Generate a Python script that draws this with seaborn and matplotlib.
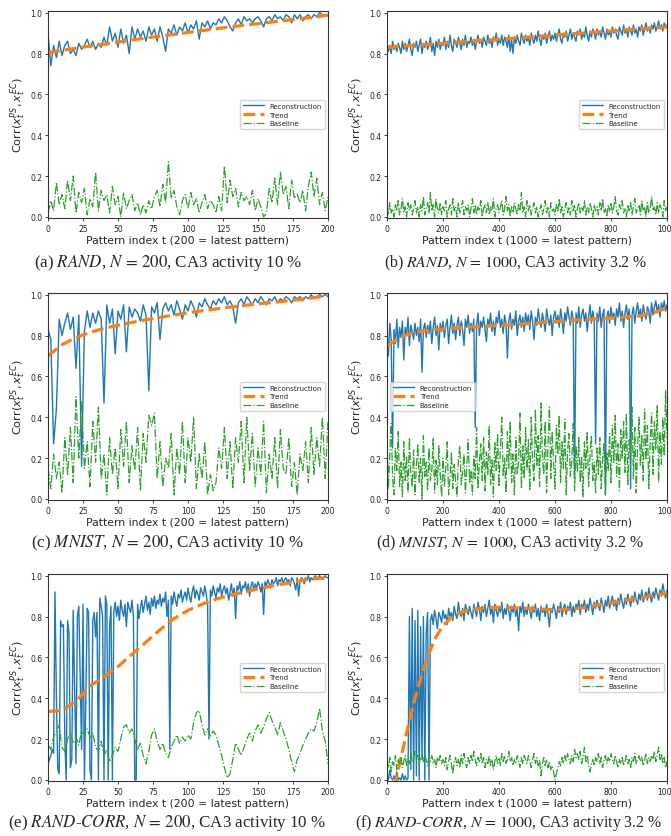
import numpy as np
import seaborn as sns
import matplotlib.pyplot as plt

sns.set_style("ticks")
plt.rcParams['font.family'] = ['DejaVu Sans']

BLUE, ORANGE, GREEN = '#1f77b4', '#ff7f0e', '#2ca02c'

# ---------------- (a) RAND, N = 200 ----------------
a_rec = [0.90, 0.74, 0.84, 0.78, 0.86, 0.79, 0.84, 0.86, 0.80, 0.82,
         0.79, 0.85, 0.82, 0.84, 0.87, 0.83, 0.86, 0.82, 0.85, 0.83,
         0.88, 0.84, 0.93, 0.86, 0.90, 0.83, 0.92, 0.85, 0.89, 0.80,
         0.93, 0.87, 0.92, 0.88, 0.91, 0.86, 0.93, 0.89, 0.92, 0.86,
         0.93, 0.88, 0.81, 0.92, 0.90, 0.94, 0.89, 0.93, 0.91, 0.95,
         0.90, 0.94, 0.92, 0.96, 0.87, 0.95, 0.93, 0.96, 0.92, 0.95,
         0.94, 0.97, 0.95, 0.98, 0.96, 0.93, 0.91, 0.95, 0.97, 0.94,
         0.98, 0.96, 0.97, 0.95, 0.97, 0.98, 0.96, 0.93, 0.97, 0.98,
         0.96, 0.99, 0.97, 0.98, 0.96, 0.99, 0.98, 0.95, 0.99, 0.97,
         0.99, 0.96, 0.98, 0.99, 0.97, 0.99, 0.98, 1.00, 0.99, 0.99,
         0.99]
a_base = [0.02, 0.08, 0.03, 0.17, 0.06, 0.11, 0.04, 0.18, 0.08, 0.20,
          0.02, 0.12, 0.07, 0.14, 0.01, 0.09, 0.05, 0.22, 0.03, 0.13,
          0.08, 0.11, 0.02, 0.15, 0.06, 0.10, 0.00, 0.12, 0.04, 0.08,
          0.11, 0.03, 0.07, 0.01, 0.06, 0.02, 0.08, 0.04, 0.10, 0.13,
          0.05, 0.16, 0.07, 0.27, 0.09, 0.13, 0.05, 0.01, 0.08, 0.11,
          0.04, 0.12, 0.06, 0.09, 0.02, 0.07, 0.11, 0.04, 0.08, 0.06,
          0.02, 0.10, 0.03, 0.25, 0.07, 0.18, 0.10, 0.14, 0.05, 0.12,
          0.08, 0.10, 0.06, 0.13, 0.03, 0.09, 0.05, 0.00, 0.02, 0.14,
          0.07, 0.19, 0.06, 0.22, 0.11, 0.15, 0.04, 0.18, 0.09, 0.11,
          0.07, 0.13, 0.03, 0.15, 0.22, 0.10, 0.19, 0.06, 0.12, 0.03,
          0.10]
a_trend = [0.805, 0.815, 0.826, 0.836, 0.846, 0.856, 0.866, 0.876, 0.885, 0.894,
           0.903, 0.912, 0.921, 0.930, 0.938, 0.946, 0.954, 0.962, 0.970, 0.978,
           0.988]

# ---------------- (b) RAND, N = 1000 ----------------
b_rec = [0.85, 0.81, 0.84, 0.80, 0.86, 0.82, 0.84, 0.81, 0.85, 0.83,
         0.80, 0.86, 0.82, 0.85, 0.81, 0.84, 0.87, 0.82, 0.79, 0.85,
         0.83, 0.86, 0.81, 0.84, 0.87, 0.80, 0.85, 0.83, 0.86, 0.82,
         0.84, 0.88, 0.81, 0.85, 0.79, 0.86, 0.83, 0.87, 0.82, 0.85,
         0.84, 0.88, 0.82, 0.86, 0.83, 0.89, 0.84, 0.81, 0.87, 0.85,
         0.83, 0.88, 0.85, 0.82, 0.87, 0.84, 0.89, 0.83, 0.86, 0.85,
         0.88, 0.84, 0.87, 0.82, 0.86, 0.89, 0.85, 0.87, 0.83, 0.88,
         0.86, 0.84, 0.89, 0.85, 0.87, 0.83, 0.88, 0.86, 0.90, 0.84,
         0.87, 0.85, 0.89, 0.84, 0.88, 0.86, 0.83, 0.89, 0.81, 0.87,
         0.80, 0.88, 0.85, 0.89, 0.86, 0.84, 0.90, 0.87, 0.85, 0.89,
         0.86, 0.88, 0.84, 0.90, 0.87, 0.85, 0.89, 0.86, 0.91, 0.87,
         0.84, 0.89, 0.87, 0.90, 0.85, 0.88, 0.91, 0.86, 0.89, 0.87,
         0.90, 0.86, 0.89, 0.92, 0.87, 0.85, 0.90, 0.88, 0.91, 0.86,
         0.89, 0.92, 0.87, 0.90, 0.88, 0.86, 0.91, 0.89, 0.92, 0.87,
         0.90, 0.88, 0.93, 0.89, 0.86, 0.91, 0.88, 0.92, 0.90, 0.87,
         0.92, 0.89, 0.91, 0.88, 0.93, 0.90, 0.87, 0.92, 0.89, 0.91,
         0.88, 0.93, 0.90, 0.92, 0.89, 0.87, 0.93, 0.91, 0.89, 0.94,
         0.90, 0.92, 0.88, 0.93, 0.91, 0.89, 0.94, 0.90, 0.92, 0.88,
         0.93, 0.91, 0.94, 0.89, 0.92, 0.95, 0.91, 0.93, 0.90, 0.94,
         0.92, 0.95, 0.91, 0.93, 0.96, 0.92, 0.94, 0.91, 0.95, 0.93,
         0.94]
b_base = [0.05, 0.01, 0.07, 0.02, 0.04, 0.00, 0.06, 0.03, 0.08, 0.01,
          0.04, 0.09, 0.02, 0.05, 0.00, 0.07, 0.03, 0.06, 0.01, 0.04,
          0.08, 0.02, 0.05, 0.00, 0.06, 0.03, 0.10, 0.01, 0.04, 0.07,
          0.02, 0.12, 0.03, 0.06, 0.00, 0.09, 0.04, 0.02, 0.07, 0.01,
          0.05, 0.03, 0.08, 0.00, 0.04, 0.06, 0.01, 0.09, 0.03, 0.05,
          0.00, 0.07, 0.02, 0.04, 0.08, 0.01, 0.05, 0.03, 0.06, 0.00,
          0.04, 0.09, 0.02, 0.06, 0.01, 0.05, 0.03, 0.08, 0.00, 0.04,
          0.06, 0.02, 0.07, 0.01, 0.05, 0.03, 0.09, 0.00, 0.04, 0.06,
          0.02, 0.05, 0.08, 0.01, 0.04, 0.10, 0.03, 0.06, 0.00, 0.05,
          0.02, 0.07, 0.04, 0.01, 0.06, 0.03, 0.12, 0.02, 0.05, 0.00,
          0.08, 0.03, 0.06, 0.01, 0.04, 0.07, 0.02, 0.05, 0.00, 0.03,
          0.06, 0.01, 0.04, 0.08, 0.02, 0.05, 0.00, 0.07, 0.03, 0.04,
          0.01, 0.06, 0.03, 0.09, 0.02, 0.05, 0.00, 0.04, 0.07, 0.02,
          0.05, 0.01, 0.08, 0.03, 0.06, 0.00, 0.04, 0.07, 0.02, 0.05,
          0.03, 0.08, 0.01, 0.05, 0.02, 0.07, 0.04, 0.00, 0.06, 0.03,
          0.05, 0.01, 0.07, 0.03, 0.09, 0.02, 0.04, 0.00, 0.06, 0.03,
          0.07, 0.02, 0.05, 0.10, 0.03, 0.01, 0.06, 0.04, 0.08, 0.02,
          0.04, 0.00, 0.06, 0.03, 0.07, 0.01, 0.05, 0.09, 0.02, 0.04,
          0.06, 0.01, 0.08, 0.03, 0.05, 0.00, 0.07, 0.02, 0.04, 0.10,
          0.03, 0.05, 0.01, 0.07, 0.02, 0.06, 0.04, 0.00, 0.08, 0.03,
          0.05]
b_trend = [0.830, 0.835, 0.840, 0.845, 0.850, 0.855, 0.860, 0.865, 0.870, 0.875,
           0.880, 0.885, 0.890, 0.895, 0.900, 0.905, 0.910, 0.915, 0.920, 0.925,
           0.930]

# ---------------- (c) MNIST, N = 200 ----------------
c_rec = [0.83, 0.78, 0.27, 0.44, 0.88, 0.80, 0.86, 0.91, 0.83, 0.89,
         0.64, 0.90, 0.16, 0.82, 0.92, 0.84, 0.91, 0.86, 0.92, 0.88,
         0.47, 0.95, 0.86, 0.93, 0.71, 0.92, 0.88, 0.95, 0.72, 0.94,
         0.89, 0.93, 0.91, 0.87, 0.95, 0.90, 0.53, 0.94, 0.91, 0.96,
         0.78, 0.93, 0.96, 0.92, 0.95, 0.90, 0.97, 0.93, 0.88, 0.95,
         0.92, 0.97, 0.94, 0.89, 0.96, 0.94, 0.98, 0.95, 0.93, 0.97,
         0.95, 0.98, 0.96, 0.99, 0.95, 0.97, 0.94, 0.86, 0.96, 0.98,
         0.95, 0.99, 0.97, 0.95, 0.98, 0.96, 0.99, 0.97, 0.95, 0.98,
         0.97, 0.99, 0.96, 0.98, 0.97, 0.99, 0.98, 0.96, 0.99, 0.98,
         0.99, 0.97, 0.99, 0.98, 1.00, 0.98, 0.99, 1.00, 0.99, 1.00,
         0.99]
c_base = [0.15, 0.05, 0.22, 0.10, 0.18, 0.03, 0.30, 0.12, 0.35, 0.08,
          0.50, 0.20, 0.48, 0.15, 0.28, 0.06, 0.38, 0.18, 0.45, 0.10,
          0.22, 0.02, 0.30, 0.12, 0.25, 0.05, 0.34, 0.16, 0.38, 0.08,
          0.26, 0.14, 0.35, 0.04, 0.32, 0.18, 0.41, 0.36, 0.42, 0.10,
          0.28, 0.06, 0.20, 0.15, 0.32, 0.02, 0.25, 0.12, 0.38, 0.08,
          0.30, 0.18, 0.40, 0.05, 0.22, 0.10, 0.28, 0.02, 0.12, 0.04,
          0.08, 0.25, 0.15, 0.35, 0.10, 0.28, 0.05, 0.30, 0.18, 0.38,
          0.08, 0.40, 0.14, 0.32, 0.06, 0.25, 0.12, 0.38, 0.03, 0.22,
          0.10, 0.30, 0.05, 0.34, 0.15, 0.12, 0.30, 0.06, 0.18, 0.02,
          0.22, 0.14, 0.28, 0.08, 0.35, 0.12, 0.30, 0.16, 0.40, 0.10,
          0.38]
c_trend = [0.700, 0.755, 0.790, 0.815, 0.835, 0.850, 0.864, 0.877, 0.889, 0.900,
           0.911, 0.921, 0.930, 0.939, 0.947, 0.955, 0.962, 0.969, 0.977, 0.985,
           0.995]

# ---------------- (d) MNIST, N = 1000 ----------------
d_rec = [0.82, 0.70, 0.86, 0.78, 0.25, 0.83, 0.76, 0.88, 0.74, 0.84,
         0.79, 0.87, 0.68, 0.84, 0.80, 0.89, 0.75, 0.85, 0.82, 0.78,
         0.86, 0.80, 0.84, 0.77, 0.88, 0.62, 0.83, 0.86, 0.79, 0.85,
         0.81, 0.87, 0.76, 0.84, 0.89, 0.80, 0.85, 0.73, 0.86, 0.82,
         0.87, 0.79, 0.85, 0.88, 0.76, 0.84, 0.90, 0.81, 0.86, 0.78,
         0.85, 0.89, 0.80, 0.87, 0.83, 0.75, 0.88, 0.84, 0.90, 0.81,
         0.86, 0.82, 0.88, 0.35, 0.85, 0.91, 0.80, 0.87, 0.84, 0.89,
         0.83, 0.77, 0.88, 0.85, 0.91, 0.82, 0.87, 0.80, 0.89, 0.86,
         0.92, 0.84, 0.88, 0.81, 0.90, 0.86, 0.69, 0.87, 0.91, 0.83,
         0.88, 0.85, 0.92, 0.80, 0.87, 0.90, 0.84, 0.89, 0.82, 0.91,
         0.86, 0.90, 0.83, 0.92, 0.87, 0.78, 0.89, 0.85, 0.93, 0.88,
         0.84, 0.91, 0.87, 0.82, 0.93, 0.88, 0.85, 0.90, 0.80, 0.89,
         0.92, 0.86, 0.90, 0.84, 0.93, 0.88, 0.81, 0.91, 0.87, 0.94,
         0.89, 0.85, 0.92, 0.88, 0.10, 0.91, 0.86, 0.94, 0.84, 0.90,
         0.93, 0.87, 0.91, 0.82, 0.89, 0.95, 0.86, 0.92, 0.88, 0.27,
         0.91, 0.87, 0.94, 0.84, 0.90, 0.93, 0.02, 0.89, 0.92, 0.86,
         0.94, 0.88, 0.91, 0.85, 0.93, 0.89, 0.96, 0.87, 0.92, 0.84,
         0.91, 0.95, 0.88, 0.93, 0.05, 0.90, 0.94, 0.86, 0.92, 0.96,
         0.89, 0.93, 0.87, 0.95, 0.91, 0.88, 0.94, 0.92, 0.86, 0.96,
         0.90, 0.94, 0.97, 0.91, 0.95, 0.89, 0.96, 0.93, 0.97, 0.92,
         0.95]
d_base = [0.30, 0.05, 0.22, 0.37, 0.10, 0.02, 0.25, 0.14, 0.33, 0.06,
          0.18, 0.01, 0.28, 0.09, 0.21, 0.03, 0.30, 0.12, 0.06, 0.24,
          0.02, 0.16, 0.27, 0.08, 0.20, 0.00, 0.31, 0.11, 0.18, 0.04,
          0.25, 0.09, 0.14, 0.30, 0.03, 0.19, 0.07, 0.26, 0.12, 0.01,
          0.20, 0.06, 0.15, 0.28, 0.02, 0.10, 0.23, 0.05, 0.17, 0.09,
          0.01, 0.19, 0.26, 0.07, 0.13, 0.22, 0.03, 0.16, 0.29, 0.08,
          0.14, 0.02, 0.21, 0.10, 0.35, 0.05, 0.18, 0.27, 0.09, 0.30,
          0.04, 0.23, 0.12, 0.36, 0.07, 0.19, 0.01, 0.28, 0.14, 0.32,
          0.06, 0.25, 0.40, 0.11, 0.20, 0.03, 0.33, 0.15, 0.38, 0.08,
          0.22, 0.02, 0.30, 0.12, 0.18, 0.42, 0.05, 0.26, 0.10, 0.35,
          0.14, 0.29, 0.04, 0.40, 0.19, 0.09, 0.44, 0.16, 0.31, 0.06,
          0.47, 0.21, 0.12, 0.38, 0.03, 0.27, 0.45, 0.10, 0.33, 0.18,
          0.05, 0.36, 0.22, 0.41, 0.08, 0.28, 0.15, 0.39, 0.02, 0.24,
          0.32, 0.11, 0.19, 0.37, 0.04, 0.26, 0.13, 0.30, 0.08, 0.21,
          0.01, 0.28, 0.15, 0.33, 0.06, 0.22, 0.31, 0.09, 0.18, 0.03,
          0.25, 0.12, 0.30, 0.05, 0.19, 0.27, 0.02, 0.23, 0.14, 0.32,
          0.08, 0.36, 0.18, 0.41, 0.11, 0.27, 0.04, 0.34, 0.20, 0.38,
          0.13, 0.42, 0.07, 0.29, 0.22, 0.45, 0.10, 0.35, 0.03, 0.26,
          0.40, 0.16, 0.31, 0.09, 0.44, 0.19, 0.36, 0.05, 0.28, 0.42,
          0.12, 0.38, 0.24, 0.46, 0.08, 0.33, 0.17, 0.40, 0.21, 0.53,
          0.30]
d_trend = [0.750, 0.795, 0.815, 0.825, 0.832, 0.837, 0.841, 0.845, 0.849, 0.853,
           0.858, 0.863, 0.868, 0.873, 0.878, 0.882, 0.886, 0.890, 0.896, 0.910,
           0.935]

# ---------------- (e) RAND-CORR, N = 200 ----------------
e_rec = [0.08, 0.10, 0.12, 0.15, 0.13, 0.92, 0.40, 0.05, 0.03, 0.78,
         0.75, 0.76, 0.20, 0.00, 0.78, 0.72, 0.06, 0.10, 0.83, 0.45,
         0.08, 0.80, 0.85, 0.50, 0.15, 0.86, 0.00, 0.40, 0.84, 0.82,
         0.05, 0.00, 0.78, 0.82, 0.70, 0.82, 0.00, 0.89, 0.85, 0.80,
         0.00, 0.90, 0.86, 0.00, 0.75, 0.85, 0.00, 0.82, 0.87, 0.80,
         0.85, 0.78, 0.88, 0.83, 0.80, 0.86, 0.75, 0.87, 0.84, 0.82,
         0.88, 0.80, 0.00, 0.00, 0.86, 0.79, 0.84, 0.88, 0.82, 0.86,
         0.90, 0.83, 0.87, 0.81, 0.89, 0.85, 0.90, 0.84, 0.88, 0.86,
         0.91, 0.85, 0.89, 0.87, 0.92, 0.80, 0.88, 0.15, 0.90, 0.86,
         0.92, 0.88, 0.85, 0.91, 0.89, 0.93, 0.87, 0.90, 0.92, 0.88,
         0.94, 0.90, 0.87, 0.92, 0.95, 0.89, 0.93, 0.91, 0.88, 0.94,
         0.92, 0.90, 0.95, 0.91, 0.86, 0.20, 0.93, 0.90, 0.95, 0.92,
         0.89, 0.94, 0.92, 0.96, 0.90, 0.93, 0.95, 0.91, 0.94, 0.88,
         0.92, 0.96, 0.90, 0.94, 0.79, 0.95, 0.93, 0.97, 0.91, 0.95,
         0.94, 0.97, 0.92, 0.96, 0.90, 0.95, 0.97, 0.93, 0.96, 0.94,
         0.97, 0.95, 0.92, 0.96, 0.81, 0.97, 0.95, 0.98, 0.96, 0.94,
         0.98, 0.96, 0.97, 0.99, 0.95, 0.98, 0.97, 0.99, 0.96, 0.98,
         0.99, 0.97, 0.98, 0.95, 0.99, 0.98, 0.96, 0.93, 0.99, 0.90,
         0.97, 0.99, 0.98, 0.96, 0.99, 0.98, 1.00, 0.97, 0.99, 0.98,
         0.99, 1.00, 0.98, 0.99, 1.00, 0.99, 0.98, 0.99, 1.00, 0.99,
         0.99]
e_base = [0.17, 0.15, 0.21, 0.24, 0.27, 0.16, 0.14, 0.20, 0.23, 0.18,
          0.21, 0.17, 0.24, 0.22, 0.25, 0.21, 0.23, 0.16, 0.14, 0.19,
          0.12, 0.15, 0.09, 0.12, 0.16, 0.14, 0.20, 0.26, 0.27, 0.23,
          0.25, 0.20, 0.15, 0.18, 0.12, 0.08, 0.14, 0.22, 0.25, 0.19,
          0.15, 0.18, 0.13, 0.11, 0.16, 0.19, 0.22, 0.18, 0.21, 0.19,
          0.22, 0.20, 0.28, 0.33, 0.34, 0.27, 0.22, 0.25, 0.21, 0.24,
          0.22, 0.17, 0.12, 0.06, 0.01, 0.03, 0.10, 0.18, 0.15, 0.12,
          0.16, 0.20, 0.23, 0.19, 0.24, 0.27, 0.23, 0.26, 0.30, 0.33,
          0.29, 0.26, 0.22, 0.28, 0.24, 0.20, 0.15, 0.09, 0.04, 0.10,
          0.13, 0.17, 0.20, 0.23, 0.25, 0.24, 0.28, 0.35, 0.24, 0.19,
          0.08]
e_trend = [0.335, 0.340, 0.385, 0.460, 0.505, 0.555, 0.615, 0.675, 0.735, 0.790,
           0.830, 0.860, 0.885, 0.905, 0.920, 0.935, 0.950, 0.962, 0.975, 0.985,
           0.990]

# ---------------- (f) RAND-CORR, N = 1000 ----------------
f_rec = [0.03, 0.00, 0.05, 0.01, 0.00, 0.02, 0.00, 0.04, 0.00, 0.01,
         0.00, 0.03, 0.00, 0.02, 0.00, 0.01, 0.80, 0.05, 0.84, 0.00,
         0.78, 0.02, 0.83, 0.00, 0.75, 0.10, 0.80, 0.00, 0.72, 0.82,
         0.00, 0.78, 0.81, 0.76, 0.83, 0.79, 0.74, 0.82, 0.80, 0.77,
         0.83, 0.79, 0.81, 0.76, 0.84, 0.80, 0.82, 0.78, 0.85, 0.81,
         0.79, 0.87, 0.82, 0.80, 0.84, 0.78, 0.86, 0.83, 0.81, 0.85,
         0.82, 0.79, 0.86, 0.83, 0.80, 0.87, 0.84, 0.78, 0.85, 0.82,
         0.86, 0.80, 0.84, 0.88, 0.81, 0.85, 0.77, 0.86, 0.83, 0.80,
         0.85, 0.82, 0.87, 0.79, 0.84, 0.81, 0.86, 0.83, 0.78, 0.85,
         0.82, 0.86, 0.80, 0.84, 0.73, 0.85, 0.82, 0.87, 0.80, 0.84,
         0.81, 0.86, 0.83, 0.79, 0.85, 0.82, 0.86, 0.80, 0.84, 0.78,
         0.85, 0.82, 0.84, 0.80, 0.86, 0.81, 0.75, 0.84, 0.82, 0.86,
         0.83, 0.79, 0.85, 0.82, 0.87, 0.80, 0.84, 0.86, 0.81, 0.85,
         0.83, 0.87, 0.80, 0.85, 0.82, 0.86, 0.84, 0.88, 0.81, 0.86,
         0.84, 0.88, 0.82, 0.86, 0.83, 0.89, 0.85, 0.81, 0.87, 0.84,
         0.88, 0.85, 0.83, 0.89, 0.86, 0.82, 0.88, 0.85, 0.90, 0.84,
         0.87, 0.90, 0.85, 0.88, 0.83, 0.89, 0.86, 0.91, 0.87, 0.84,
         0.89, 0.86, 0.91, 0.88, 0.85, 0.90, 0.87, 0.92, 0.88, 0.86,
         0.91, 0.88, 0.93, 0.87, 0.90, 0.92, 0.88, 0.94, 0.90, 0.87,
         0.92, 0.89, 0.94, 0.91, 0.88, 0.93, 0.90, 0.96, 0.92, 0.89,
         0.93]
f_base = [0.10, 0.06, 0.11, 0.04, 0.09, 0.07, 0.12, 0.05, 0.10, 0.08,
          0.11, 0.06, 0.09, 0.12, 0.07, 0.10, 0.08, 0.13, 0.09, 0.11,
          0.14, 0.10, 0.12, 0.08, 0.11, 0.13, 0.09, 0.12, 0.10, 0.07,
          0.11, 0.09, 0.12, 0.08, 0.10, 0.06, 0.11, 0.09, 0.12, 0.08,
          0.10, 0.07, 0.11, 0.05, 0.09, 0.12, 0.08, 0.03, 0.09, 0.11,
          0.07, 0.10, 0.06, 0.12, 0.08, 0.13, 0.09, 0.06, 0.11, 0.08,
          0.12, 0.09, 0.14, 0.10, 0.07, 0.11, 0.09, 0.13, 0.08, 0.11,
          0.06, 0.10, 0.08, 0.12, 0.07, 0.10, 0.05, 0.09, 0.12, 0.08,
          0.11, 0.07, 0.13, 0.09, 0.12, 0.08, 0.10, 0.14, 0.09, 0.11,
          0.07, 0.10, 0.08, 0.12, 0.09, 0.06, 0.11, 0.08, 0.12, 0.10,
          0.08, 0.12, 0.09, 0.06, 0.10, 0.13, 0.08, 0.11, 0.07, 0.10,
          0.02, 0.08, 0.11, 0.07, 0.10, 0.06, 0.09, 0.05, 0.07, 0.04,
          0.00, 0.03, 0.06, 0.09, 0.07, 0.11, 0.08, 0.12, 0.09, 0.13,
          0.10, 0.08, 0.12, 0.09, 0.15, 0.11, 0.13, 0.10, 0.14, 0.08,
          0.11, 0.16, 0.09, 0.12, 0.07, 0.04, 0.08, 0.10, 0.07, 0.11,
          0.09, 0.13, 0.08, 0.11, 0.06, 0.10, 0.12, 0.08, 0.11, 0.09,
          0.13, 0.10, 0.08, 0.12, 0.09, 0.06, 0.10, 0.08, 0.11, 0.07,
          0.09, 0.12, 0.08, 0.10, 0.06, 0.11, 0.09, 0.13, 0.08, 0.10,
          0.12, 0.09, 0.11, 0.07, 0.10, 0.13, 0.08, 0.11, 0.09, 0.12,
          0.10, 0.14, 0.09, 0.12, 0.16, 0.10, 0.13, 0.08, 0.11, 0.06,
          0.09]
f_trend_x = [0, 25, 50, 75, 100, 125, 150, 175, 200, 225, 250, 275, 300,
             350, 400, 450, 500, 550, 600, 650, 700, 750, 800, 850, 900, 950, 1000]
f_trend = [-0.19, -0.04, 0.11, 0.26, 0.40, 0.52, 0.62, 0.70, 0.755, 0.79, 0.81, 0.825, 0.835,
           0.842, 0.845, 0.843, 0.840, 0.836, 0.832, 0.835, 0.843, 0.855, 0.866, 0.878, 0.890,
           0.903, 0.915]

captions = [
    r'(a) $\mathit{RAND}$, $N\,=\,200$, CA3 activity 10 %',
    r'(b) $\mathit{RAND}$, $N\,=\,1000$, CA3 activity 3.2 %',
    r'(c) $\mathit{MNIST}$, $N\,=\,200$, CA3 activity 10 %',
    r'(d) $\mathit{MNIST}$, $N\,=\,1000$, CA3 activity 3.2 %',
    r'(e) $\mathit{RAND}$-$\mathit{CORR}$, $N\,=\,200$, CA3 activity 10 %',
    r'(f) $\mathit{RAND}$-$\mathit{CORR}$, $N\,=\,1000$, CA3 activity 3.2 %',
]

W, H = 671, 837
fig = plt.figure(figsize=(W / 100, H / 100), dpi=100)

x200 = np.arange(0, 201, 2)
x200_1 = np.arange(0, 201, 1)
x200_t = np.arange(0, 201, 10)
x1000 = np.arange(0, 1001, 5)
x1000_t = np.arange(0, 1001, 50)

panels = [
    (x200, a_rec, x200_t, a_trend, x200, a_base, 200, 'center right'),
    (x1000, b_rec, x1000_t, b_trend, x1000, b_base, 1000, 'center right'),
    (x200, c_rec, x200_t, c_trend, x200, c_base, 200, 'center right'),
    (x1000, d_rec, x1000_t, d_trend, x1000, d_base, 1000, 'center left'),
    (x200_1, e_rec, x200_t, e_trend, x200, e_base, 200, 'center right'),
    (x1000, f_rec, f_trend_x, f_trend, x1000, f_base, 1000, 'center right'),
]

lefts = [48, 387]
tops = [12, 294, 575]
ax_w, ax_h = 280, 207
cap_x = [168, 516, 168, 510, 167, 509]
cap_y = [263, 543, 823]
cap_size = [12.2, 11.3]

for i, (xr, rec, xt, tr, xb, base, n, loc) in enumerate(panels):
    row, col = divmod(i, 2)
    l, t = lefts[col], tops[row]
    ax = fig.add_axes([l / W, 1 - (t + ax_h) / H, ax_w / W, ax_h / H])

    sns.lineplot(x=xr, y=rec, ax=ax, color=BLUE, lw=1.0, label='Reconstruction')
    sns.lineplot(x=xt, y=tr, ax=ax, color=ORANGE, lw=2.3, linestyle='--', label='Trend')
    sns.lineplot(x=xb, y=base, ax=ax, color=GREEN, lw=0.9, linestyle='-.', label='Baseline')

    ax.set_xlim(0, n)
    ax.set_ylim(-0.005, 1.008)
    ax.set_xticks(np.arange(0, n + 1, 25 if n == 200 else 200))
    ax.set_yticks([0.0, 0.2, 0.4, 0.6, 0.8, 1.0])
    ax.yaxis.set_major_formatter(plt.FormatStrFormatter('%.1f'))
    ax.tick_params(labelsize=5.5, length=2.5, width=0.6, pad=1.5, colors='#222222')
    for s in ax.spines.values():
        s.set_linewidth(0.8)
        s.set_color('#333333')

    ax.set_xlabel(f'Pattern index t ({n} = latest pattern)', fontsize=7.8, labelpad=2)
    ax.set_ylabel(r'Corr$(x_t^{PS}, x_t^{EC})$', fontsize=8.2, labelpad=2)

    ax.legend(loc=loc, fontsize=5, handlelength=3.0, frameon=True,
              framealpha=0.8, edgecolor='#cccccc', borderpad=0.4, labelspacing=0.4)

    fig.text(cap_x[i] / W, 1 - cap_y[row] / H, captions[i], ha='center', va='center',
             family='Liberation Serif', math_fontfamily='stix', fontsize=cap_size[col])

fig.savefig('out.png', dpi=100)
